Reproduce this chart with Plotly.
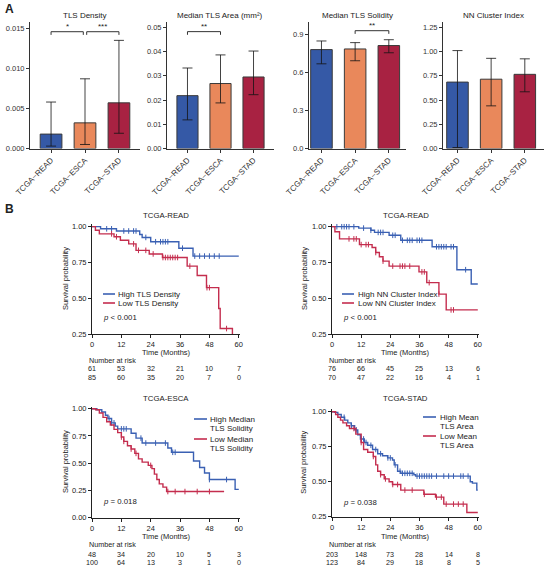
import numpy as np
import plotly.graph_objects as go

# ---- panel A: bar charts ----
groups = ["TCGA\u2212READ", "TCGA\u2212ESCA", "TCGA\u2212STAD"]
bar_colors = ["#3559a6", "#e9885b", "#a82242"]

density = [0.0018, 0.0032, 0.0057]
density_lo = [0.0003, 0.0005, 0.0019]
density_hi = [0.0058, 0.0087, 0.0135]

area = [0.0218, 0.0268, 0.0295]
area_lo = [0.0118, 0.0188, 0.0222]
area_hi = [0.0332, 0.0386, 0.0402]

solidity = [0.780, 0.785, 0.812]
solidity_lo = [0.668, 0.692, 0.755]
solidity_hi = [0.848, 0.835, 0.858]

nn_index = [0.685, 0.715, 0.765]
nn_index_lo = [0.01, 0.44, 0.585]
nn_index_hi = [1.01, 0.93, 0.925]

# significance brackets: (panel, from, to, height, label)
brackets = [
    (1, 0.0, 0.95, 0.01458, "*"),
    (1, 1.05, 2.0, 0.01458, "***"),
    (2, 0.0, 1.0, 0.0482, "**"),
    (3, 1.0, 2.0, 0.929, "**"),
]

# ---- panel B: Kaplan-Meier curves ----
months_ticks = [0, 12, 24, 36, 48, 60]

read1_high_t = [0, 3.5, 10, 19.5, 20.5, 24, 35.5, 41.3, 60]
read1_high_s = [1.0, 0.985, 0.97, 0.945, 0.925, 0.895, 0.85, 0.795, 0.795]
read1_high_c = [6, 8, 13, 15, 17, 18, 22, 26, 28, 29, 30, 31, 37, 42, 44, 46, 48, 50, 52]
read1_low_t = [0, 1.4, 3, 9, 11.6, 15, 18, 23.4, 28.8, 38.9, 43, 46.8, 51.8, 52.4, 57.4]
read1_low_s = [1.0, 0.975, 0.95, 0.93, 0.905, 0.88, 0.835, 0.81, 0.785, 0.725, 0.66, 0.575, 0.43, 0.29, 0.2]
read1_low_c = [8, 10, 17, 19, 22, 25, 29, 30, 31, 32, 33, 34, 35, 40, 47, 48, 55]
read1_risk_high = [61, 53, 32, 21, 10, 7]
read1_risk_low = [85, 60, 35, 20, 7, 0]

read2_high_t = [0, 11, 16, 17.5, 23.5, 28.3, 41.2, 51.4, 57.3, 60]
read2_high_s = [1.0, 0.99, 0.975, 0.96, 0.94, 0.905, 0.86, 0.70, 0.60, 0.60]
read2_high_c = [2, 4, 5, 6, 7, 9, 13, 16, 19, 20, 21, 25, 26, 29, 31, 32, 33, 35, 36, 37, 43, 44, 45, 46, 47, 49, 50, 55]
read2_low_t = [0, 1.2, 3.1, 11.3, 16.5, 18, 19.5, 21, 23.5, 35.8, 39, 44, 47, 60]
read2_low_s = [1.0, 0.965, 0.915, 0.875, 0.855, 0.82, 0.79, 0.76, 0.725, 0.685, 0.61, 0.53, 0.42, 0.42]
read2_low_c = [7, 9, 10, 12, 14, 15, 18, 21, 25, 28, 29, 30, 32, 37, 38, 40, 44, 49, 50]
read2_risk_high = [76, 66, 45, 25, 13, 6]
read2_risk_low = [70, 47, 22, 16, 4, 1]

esca_high_t = [0, 2, 4, 5.5, 6.5, 8, 9.5, 10.5, 16, 18, 20.5, 31, 32.5, 41.5, 44, 46, 48, 58.5, 60]
esca_high_s = [1.0, 0.99, 0.97, 0.94, 0.91, 0.87, 0.84, 0.815, 0.775, 0.73, 0.685, 0.64, 0.60, 0.52, 0.46, 0.41, 0.35, 0.26, 0.26]
esca_high_c = [7, 8, 9, 12, 13, 14, 20, 22, 26, 30, 33, 34, 48, 55]
esca_low_t = [0, 1.5, 3, 4.5, 6, 7.5, 9, 10.5, 12, 13, 14.5, 16, 17.5, 19, 20.5, 23, 24.5, 25.5, 26.5, 27.5, 29, 30.5, 54]
esca_low_s = [1.0, 0.99, 0.96, 0.92, 0.88, 0.85, 0.81, 0.78, 0.74, 0.70, 0.66, 0.63, 0.59, 0.54, 0.51, 0.48, 0.45, 0.40, 0.35, 0.31, 0.28, 0.24, 0.24]
esca_low_c = [12, 13, 16, 18, 24, 31, 34, 38, 43, 48]
esca_risk_high = [48, 34, 20, 10, 5, 3]
esca_risk_low = [100, 64, 13, 3, 1, 0]

stad_high_t = [0, 1.1, 2.4, 3.8, 5.2, 6.5, 7.9, 9.3, 10.6, 11.7, 13.3, 14.7, 16.7, 18.8, 20.8, 22.9, 24.9, 25.6, 27, 28.3, 33.7, 34.4, 56.9, 57.8, 59.6, 60]
stad_high_s = [1.0, 0.995, 0.98, 0.96, 0.94, 0.92, 0.90, 0.87, 0.835, 0.805, 0.78, 0.76, 0.73, 0.70, 0.685, 0.67, 0.655, 0.62, 0.575, 0.56, 0.55, 0.54, 0.50, 0.49, 0.44, 0.44]
stad_high_c = [5, 8, 10, 12, 13, 14, 16, 18, 20, 23, 24, 26, 28, 29, 30, 31, 32, 33, 35, 36, 37, 38, 39, 40, 41, 43, 46, 48, 50, 53, 54, 56]
stad_low_t = [0, 1.5, 2.4, 3.5, 4.5, 6, 7.2, 9.8, 12, 13, 14.7, 17, 18, 18.8, 20, 21.5, 23.5, 24.9, 28.3, 37.8, 42.6, 46, 55.5, 60]
stad_low_s = [1.0, 0.98, 0.96, 0.94, 0.92, 0.90, 0.88, 0.84, 0.78, 0.73, 0.71, 0.68, 0.62, 0.575, 0.55, 0.52, 0.50, 0.48, 0.44, 0.41, 0.39, 0.34, 0.28, 0.28]
stad_low_c = [9, 12, 17, 20, 22, 25, 27, 30, 33, 38, 43, 45, 47, 50, 52, 54]
stad_risk_high = [203, 148, 73, 28, 14, 8]
stad_risk_low = [123, 84, 29, 18, 8, 5]

BLUE = "#3a60b3"
RED = "#c42d4e"
INK = "#222"
FONT = "Arial, Liberation Sans, sans-serif"
W, H = 550, 570


def fx(p):
    return p / W


def fy(p):
    return 1 - p / H


def note(text, x, y, xref="paper", yref="paper", size=7.5, xanchor="center", yanchor="middle", **kw):
    return dict(text=text, x=x, y=y, xref=xref, yref=yref, xanchor=xanchor, yanchor=yanchor,
                showarrow=False, borderpad=0, font=dict(size=size, color=INK, family=FONT), **kw)


fig = go.Figure()
annos = []
shapes = []

# bar panels: (values, lo, hi, title, x px domain, y range, ticks, tick format, x range)
bar_panels = [
    (density, density_lo, density_hi, "TLS Density", (30, 140), [0, 0.01583],
     [0, 0.005, 0.010, 0.015], ".3f", [-0.62, 2.62]),
    (area, area_lo, area_hi, "Median TLS Area (mm\u00b2)", (167, 274), [0, 0.0523],
     [0, 0.01, 0.02, 0.03, 0.04, 0.05], ".2f", [-0.62, 2.62]),
    (solidity, solidity_lo, solidity_hi, "Median TLS Solidity", (309, 406), [0, 1.0],
     [0, 0.3, 0.6, 0.9], ".1f", [-0.37, 2.51]),
    (nn_index, nn_index_lo, nn_index_hi, "NN Cluster Index", (443, 544), [0, 1.308],
     [0, 0.25, 0.5, 0.75, 1.0, 1.25], ".2f", [-0.43, 2.57]),
]

for i, (vals, lo, hi, title, (x0, x1), yr, yt, fmt, xr) in enumerate(bar_panels, start=1):
    xa = "x" if i == 1 else "x%d" % i
    ya = "y" if i == 1 else "y%d" % i
    fig.add_trace(go.Bar(
        x=[0, 1, 2], y=vals, width=0.64, xaxis=xa, yaxis=ya, showlegend=False,
        marker=dict(color=bar_colors, line=dict(color="#3a3a3a", width=1)),
        error_y=dict(type="data", symmetric=False,
                     array=[h - v for h, v in zip(hi, vals)],
                     arrayminus=[v - l for v, l in zip(vals, lo)],
                     color="rgba(20,20,20,0.8)", thickness=1, width=5),
    ))
    axis_style = dict(showline=True, linecolor="#333", linewidth=1, ticks="outside",
                      ticklen=3, tickcolor="#333", showgrid=False, zeroline=False,
                      automargin=False)
    fig.layout["xaxis" if i == 1 else "xaxis%d" % i] = dict(
        domain=[fx(x0), fx(x1)], anchor=ya, range=xr, tickvals=[0, 1, 2],
        ticktext=groups, tickangle=-45,
        tickfont=dict(size=8, color="#333", family=FONT), **axis_style)
    fig.layout["yaxis" if i == 1 else "yaxis%d" % i] = dict(
        domain=[fy(148.5), fy(21.7)], anchor=xa, range=yr, tickvals=yt, tickformat=fmt,
        tickfont=dict(size=7.5, color="#333", family=FONT), **axis_style)
    annos.append(note(title, fx((x0 + x1) / 2), fy(15.5), size=8))

for panel, a, b, h, label in brackets:
    xa = "x" if panel == 1 else "x%d" % panel
    ya = "y" if panel == 1 else "y%d" % panel
    drop = bar_panels[panel - 1][5][1] * 0.025
    fig.add_trace(go.Scatter(x=[a, a, b, b], y=[h - drop, h, h, h - drop], mode="lines",
                             line=dict(color="#333", width=1), xaxis=xa, yaxis=ya,
                             showlegend=False, hoverinfo="skip"))
    annos.append(note(label, (a + b) / 2, h, xref=xa, yref=ya, yanchor="bottom", size=8))

# KM panels; legend rows: (lines of text, colour, y px of first line)
km_panels = [
    dict(title="TCGA-READ", xd=(92, 240), yd=(334.3, 223.8), yr=[0.25, 1.02],
         yt=[0.25, 0.5, 0.75, 1.0], high=(read1_high_t, read1_high_s, read1_high_c),
         low=(read1_low_t, read1_low_s, read1_low_c),
         legend=[(["High TLS Density"], BLUE, 294), (["Low TLS Density"], RED, 303)],
         leg_x=(103, 115, 117),
         risk=(read1_risk_high, read1_risk_low), p="<i>p</i> < 0.001", py=0.369,
         title_y=215, xlab_y=352, ylab_x=65, risk_y=(360.3, 368.8, 377.3)),
    dict(title="TCGA-READ", xd=(332, 479), yd=(334.3, 223.8), yr=[0.25, 1.02],
         yt=[0.25, 0.5, 0.75, 1.0], high=(read2_high_t, read2_high_s, read2_high_c),
         low=(read2_low_t, read2_low_s, read2_low_c),
         legend=[(["High NN Cluster Index"], BLUE, 294), (["Low NN Cluster Index"], RED, 303)],
         leg_x=(342, 354, 357),
         risk=(read2_risk_high, read2_risk_low), p="<i>p</i> < 0.001", py=0.369,
         title_y=215, xlab_y=352, ylab_x=304, risk_y=(360.3, 368.8, 377.3)),
    dict(title="TCGA-ESCA", xd=(92, 240), yd=(517.7, 406.5), yr=[0, 1.02],
         yt=[0, 0.25, 0.5, 0.75, 1.0], high=(esca_high_t, esca_high_s, esca_high_c),
         low=(esca_low_t, esca_low_s, esca_low_c),
         legend=[(["High Median", "TLS Solidity"], BLUE, 419),
                 (["Low Median", "TLS Solidity"], RED, 439)],
         leg_x=(194, 207, 209),
         risk=(esca_risk_high, esca_risk_low), p="<i>p</i> = 0.018", py=0.145,
         title_y=398, xlab_y=536.3, ylab_x=65, risk_y=(544.8, 554, 562.7)),
    dict(title="TCGA-STAD", xd=(332, 479), yd=(516.7, 408.9), yr=[0.25, 1.02],
         yt=[0.25, 0.5, 0.75, 1.0], high=(stad_high_t, stad_high_s, stad_high_c),
         low=(stad_low_t, stad_low_s, stad_low_c),
         legend=[(["High Mean", "TLS Area"], BLUE, 417), (["Low Mean", "TLS Area"], RED, 436)],
         leg_x=(423, 436, 439),
         risk=(stad_risk_high, stad_risk_low), p="<i>p</i> = 0.038", py=0.355,
         title_y=398, xlab_y=536, ylab_x=304, risk_y=(544.8, 554, 562.7)),
]

for k, pnl in enumerate(km_panels):
    n = 5 + k
    xa, ya = "x%d" % n, "y%d" % n
    for (t, s, c), col in zip((pnl["high"], pnl["low"]), (BLUE, RED)):
        fig.add_trace(go.Scatter(x=t, y=s, mode="lines", line=dict(color=col, width=1.4, shape="hv"),
                                 xaxis=xa, yaxis=ya, showlegend=False))
        idx = np.searchsorted(t, c, side="right") - 1
        fig.add_trace(go.Scatter(x=c, y=[s[j] for j in idx], mode="markers", showlegend=False,
                                 marker=dict(symbol="line-ns", size=4, line=dict(color=col, width=1)),
                                 xaxis=xa, yaxis=ya, hoverinfo="skip"))
    axis_style = dict(showline=True, linecolor=INK, linewidth=1, ticks="outside",
                      ticklen=3, tickcolor=INK, showgrid=False, zeroline=False,
                      automargin=False,
                      tickfont=dict(size=7.5, color=INK, family=FONT))
    fig.layout["xaxis%d" % n] = dict(
        domain=[fx(pnl["xd"][0]), fx(pnl["xd"][1])], anchor=ya, range=[0, 60.5],
        tickvals=months_ticks, **axis_style)
    fig.layout["yaxis%d" % n] = dict(
        domain=[fy(pnl["yd"][0]), fy(pnl["yd"][1])], anchor=xa, range=pnl["yr"],
        tickvals=pnl["yt"], tickformat=".2f", **axis_style)

    # hand-made legend, tight like the original
    lx0, lx1, tx = pnl["leg_x"]
    for lines, col, y0 in pnl["legend"]:
        shapes.append(dict(type="line", xref="paper", yref="paper", x0=fx(lx0), x1=fx(lx1),
                           y0=fy(y0), y1=fy(y0), line=dict(color=col, width=1.6)))
        for j, txt in enumerate(lines):
            annos.append(note(txt, fx(tx), fy(y0 + 9.5 * j), size=8, xanchor="left"))

    annos.append(note(pnl["title"], fx(sum(pnl["xd"]) / 2), fy(pnl["title_y"]), size=7.8))
    annos.append(note("Time (Months)", fx(sum(pnl["xd"]) / 2), fy(pnl["xlab_y"]), size=7.5))
    annos.append(note("Survival probability", fx(pnl["ylab_x"]), fy(sum(pnl["yd"]) / 2),
                      size=7.5, textangle=-90))
    annos.append(note(pnl["p"], 4, pnl["py"], xref=xa, yref=ya, xanchor="left", size=7.8))
    annos.append(note("Number at risk", fx(pnl["xd"][0] - 4), fy(pnl["risk_y"][0]),
                      xanchor="left", size=7.2))
    for row, ry in zip(pnl["risk"], pnl["risk_y"][1:]):
        for tm, v in zip(months_ticks, row):
            annos.append(note(str(v), tm, fy(ry), xref=xa, size=7.2))

annos.append(note("<b>A</b>", fx(4), fy(9), size=12, xanchor="left"))
annos.append(note("<b>B</b>", fx(4), fy(209), size=12, xanchor="left"))

fig.update_layout(width=W, height=H, margin=dict(l=0, r=0, t=0, b=0),
                  plot_bgcolor="white", paper_bgcolor="white", annotations=annos,
                  shapes=shapes, font=dict(family=FONT), showlegend=False)
fig.write_html("out.html", config={"displayModeBar": False},
               post_script="document.body.style.margin='0';")
